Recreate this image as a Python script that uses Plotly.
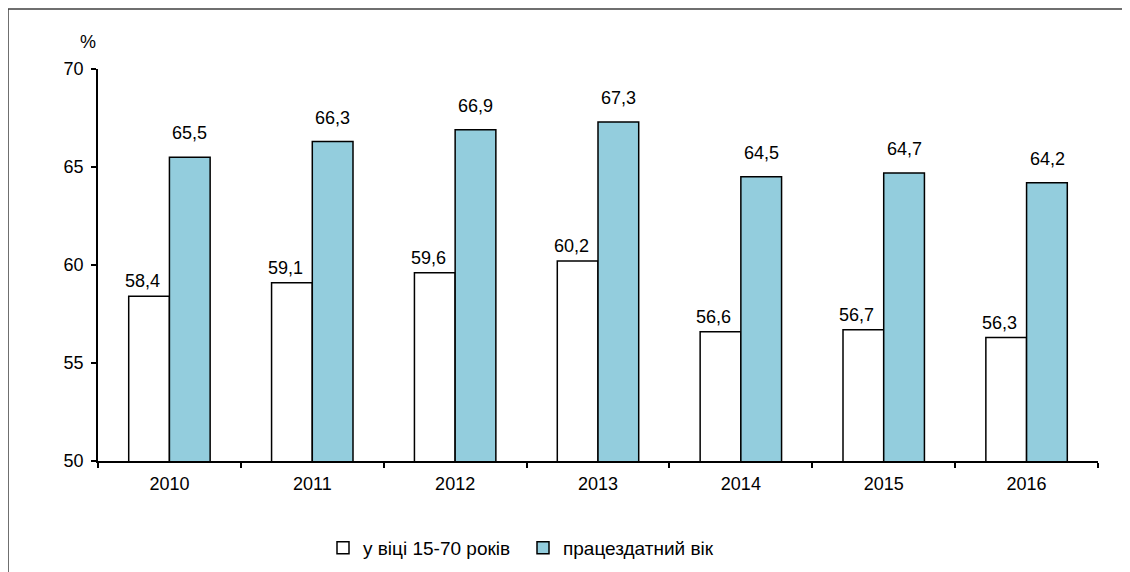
import plotly.graph_objects as go

years = ["2010", "2011", "2012", "2013", "2014", "2015", "2016"]
age_15_70 = [58.4, 59.1, 59.6, 60.2, 56.6, 56.7, 56.3]
working_age = [65.5, 66.3, 66.9, 67.3, 64.5, 64.7, 64.2]
series_names = ["у віці 15-70 років", "працездатний вік"]

FAM = "Liberation Sans, Arial, sans-serif"
font = dict(family=FAM, size=18, color="#000000")

fig = go.Figure()
fig.add_trace(go.Bar(
    x=years, y=age_15_70, name=series_names[0],
    marker=dict(color="#FFFFFF", line=dict(color="#000000", width=1.5)),
))
fig.add_trace(go.Bar(
    x=years, y=working_age, name=series_names[1],
    marker=dict(color="#93CDDD", line=dict(color="#000000", width=1.5)),
))

def fmt(v):
    return f"{v:.1f}".replace(".", ",")

annotations = []
for i, v in enumerate(age_15_70):
    annotations.append(dict(x=i, y=v, xref="x", yref="y", text=fmt(v), showarrow=False,
                            xanchor="center", yanchor="bottom", xshift=-27, yshift=3, font=font))
for i, v in enumerate(working_age):
    annotations.append(dict(x=i, y=v, xref="x", yref="y", text=fmt(v), showarrow=False,
                            xanchor="center", yanchor="bottom", xshift=20.5, yshift=12, font=font))
annotations.append(dict(text="%", xref="paper", yref="paper", x=-0.01, y=1.07,
                        showarrow=False, font=font, xanchor="center", yanchor="middle"))

fig.update_layout(
    width=1130, height=572,
    margin=dict(l=90, r=40, t=61, b=119),
    paper_bgcolor="white", plot_bgcolor="white",
    font=font,
    barmode="group", bargap=0.43, bargroupgap=0,
    showlegend=True,
    legend=dict(orientation="h", x=0.225, xanchor="left", y=-0.222, yanchor="middle",
                font=dict(family=FAM, size=19),
                itemwidth=30, tracegroupgap=0, entrywidth=155),
    xaxis=dict(type="category", range=[-0.5, 6.5], showline=True, linecolor="#000000",
               linewidth=1.5, ticks="outside", tickson="boundaries", ticklen=5,
               tickcolor="#000000", tickwidth=1.5, showgrid=False, tickfont=font,
               ticklabelstandoff=6),
    yaxis=dict(range=[50, 70], tickvals=[50, 55, 60, 65, 70], showline=True,
               linecolor="#000000", linewidth=1.5, ticks="outside", ticklen=5,
               tickcolor="#000000", tickwidth=1.5, showgrid=False, zeroline=False,
               tickfont=font, ticklabelstandoff=4),
    annotations=annotations,
    shapes=[dict(type="rect", xref="paper", yref="paper", x0=-0.09, y0=-0.4, x1=1.06, y1=1.153,
                 line=dict(color="#404040", width=1.5), fillcolor="rgba(0,0,0,0)", layer="below")],
)

fig.write_html("out.html")
